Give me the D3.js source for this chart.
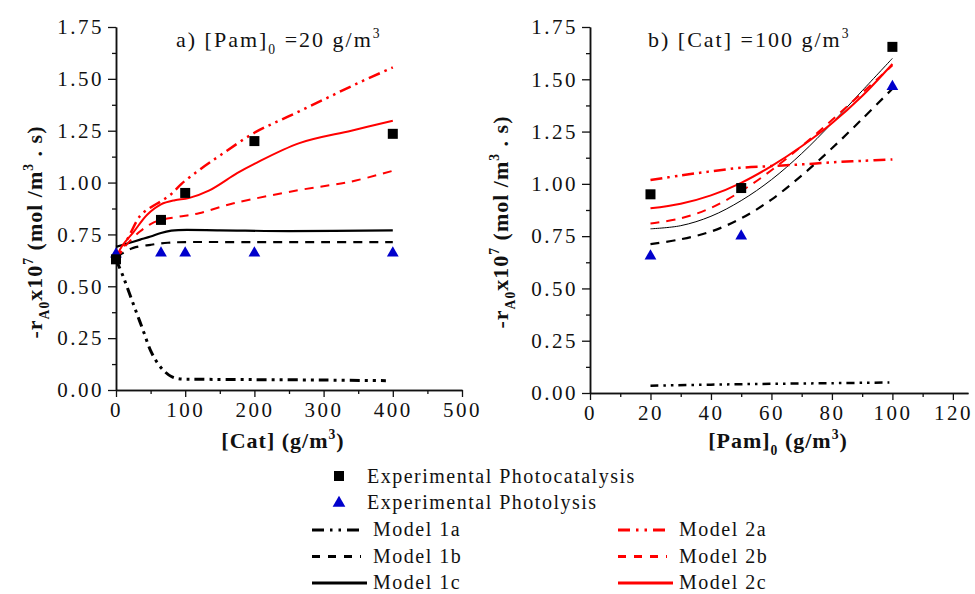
<!DOCTYPE html>
<html>
<head>
<meta charset="utf-8">
<script src="https://cdn.jsdelivr.net/npm/d3@7"></script>
<style>
  body { margin: 0; background: #fff; }
  svg { display: block; }
</style>
</head>
<body>
<svg id="chart" width="975" height="594"></svg>
<script>
// ---- Panel a: initial rate vs catalyst loading, [Pam]0 = 20 g/m3 ----
const catExpX = [0, 65, 100, 200, 400];
const catPhotocat = [0.63, 0.82, 0.95, 1.20, 1.235];
const catPhotolysis = [0.655, 0.66, 0.66, 0.66, 0.66];

const catM1aX = [0, 10, 20, 30, 40, 50, 60, 70, 80, 90, 120, 200, 300, 390];
const catM1aY = [0.63, 0.55, 0.46, 0.37, 0.28, 0.19, 0.13, 0.09, 0.065, 0.055, 0.052, 0.05, 0.048, 0.045];
const catM1bX = [0, 10, 25, 50, 75, 100, 200, 300, 400];
const catM1bY = [0.64, 0.66, 0.685, 0.70, 0.71, 0.713, 0.713, 0.713, 0.713];
const catM1cX = [0, 15, 35, 50, 65, 80, 90, 150, 250, 400];
const catM1cY = [0.69, 0.705, 0.725, 0.74, 0.757, 0.768, 0.771, 0.77, 0.766, 0.77];
const catM2aX = [0, 20, 35, 50, 65, 80, 95, 120, 150, 200, 250, 300, 350, 400];
const catM2aY = [0.62, 0.75, 0.84, 0.88, 0.91, 0.945, 0.995, 1.06, 1.13, 1.24, 1.32, 1.40, 1.48, 1.555];
const catM2bX = [0, 15, 35, 50, 65, 90, 120, 170, 265, 340, 400];
const catM2bY = [0.63, 0.70, 0.765, 0.80, 0.82, 0.835, 0.852, 0.90, 0.964, 1.005, 1.057];
const catM2cX = [0, 10, 25, 45, 65, 85, 105, 135, 175, 200, 265, 340, 400];
const catM2cY = [0.64, 0.70, 0.76, 0.845, 0.895, 0.915, 0.925, 0.962, 1.045, 1.09, 1.19, 1.25, 1.298];

// ---- Panel b: initial rate vs initial paraquat, [Cat] = 100 g/m3 ----
const pamExpX = [20, 50, 100];
const pamPhotocat = [0.95, 0.98, 1.655];
const pamPhotolysis = [0.655, 0.75, 1.465];

const pamModelX = [20, 30, 40, 50, 60, 70, 80, 90, 100];
const pamM1aX = [20, 40, 60, 80, 99];
const pamM1aY = [0.035, 0.040, 0.044, 0.047, 0.050];
const pamM1bY = [0.712, 0.735, 0.772, 0.835, 0.925, 1.04, 1.17, 1.31, 1.455];
const pamM1cY = [0.785, 0.80, 0.845, 0.92, 1.02, 1.145, 1.29, 1.445, 1.60];
const pamM2aY = [1.018, 1.04, 1.06, 1.077, 1.085, 1.093, 1.103, 1.11, 1.117];
const pamM2bY = [0.811, 0.835, 0.885, 0.965, 1.065, 1.18, 1.305, 1.435, 1.567];
const pamM2cY = [0.883, 0.905, 0.945, 1.005, 1.085, 1.18, 1.29, 1.42, 1.573];

// ---- Axis ticks ----
const catTicks = [0, 100, 200, 300, 400, 500];
const pamTicks = [0, 20, 40, 60, 80, 100, 120];
const rateTicks = [0, 0.25, 0.5, 0.75, 1.0, 1.25, 1.5, 1.75];

const RED = "#ff0000", BLACK = "#000000", BLUE = "#0000cc";
const DASH_DOT_DOT = "12,5,2.5,5,2.5,5";
const DASHED = "9,7";
const SERIF = '"Liberation Serif", serif';

const zip = (xs, ys) => xs.map((x, i) => [x, ys[i]]);

const svg = d3.select("#chart").style("font-family", SERIF);

const panels = [
  {
    x: d3.scaleLinear().domain([0, 500]).range([116, 462]),
    y: d3.scaleLinear().domain([0, 1.75]).range([390, 27]),
    xTicks: catTicks, xMinor: d3.range(50, 500, 100),
    models: [
      { pts: zip(catM1aX, catM1aY), color: BLACK, dash: "10,5,3,5,3,5", width: 3 },
      { pts: zip(catM1bX, catM1bY), color: BLACK, dash: DASHED, width: 2.2 },
      { pts: zip(catM1cX, catM1cY), color: BLACK, dash: null, width: 2.2 },
      { pts: zip(catM2aX, catM2aY), color: RED, dash: DASH_DOT_DOT, width: 2.5 },
      { pts: zip(catM2bX, catM2bY), color: RED, dash: DASHED, width: 2 },
      { pts: zip(catM2cX, catM2cY), color: RED, dash: null, width: 2 }
    ],
    squares: zip(catExpX, catPhotocat),
    triangles: zip(catExpX, catPhotolysis),
    title: { x: 176, parts: [["a) [Pam]", 0], ["0", 1], [" =20 g/m", 0], ["3", -1]] },
    xlabel: { x: 283, parts: [["[Cat] (g/m", 0], ["3", -1], [")", 0]] },
    ylabelX: 42, ylabelY: 232
  },
  {
    x: d3.scaleLinear().domain([0, 125]).range([590, 968]),
    y: d3.scaleLinear().domain([0, 1.75]).range([393, 27]),
    xTicks: pamTicks, xMinor: d3.range(10, 125, 20),
    models: [
      { pts: zip(pamM1aX, pamM1aY), color: BLACK, dash: "8,5,2.5,5,2.5,5", width: 2.5 },
      { pts: zip(pamModelX, pamM1bY), color: BLACK, dash: DASHED, width: 2.2 },
      { pts: zip(pamModelX, pamM1cY), color: BLACK, dash: null, width: 1 },
      { pts: zip(pamModelX, pamM2aY), color: RED, dash: DASH_DOT_DOT, width: 2.5 },
      { pts: zip(pamModelX, pamM2bY), color: RED, dash: DASHED, width: 2 },
      { pts: zip(pamModelX, pamM2cY), color: RED, dash: null, width: 2 }
    ],
    squares: zip(pamExpX, pamPhotocat),
    triangles: zip(pamExpX, pamPhotolysis),
    title: { x: 648, parts: [["b) [Cat] =100 g/m", 0], ["3", -1]] },
    xlabel: { x: 778, parts: [["[Pam]", 0], ["0", 1], [" (g/m", 0], ["3", -1], [")", 0]] },
    ylabelX: 508, ylabelY: 222
  }
];

// Writes text made of normal / subscript (1) / superscript (-1) runs.
function richText(sel, parts, size) {
  let shift = 0;
  parts.forEach(([s, kind]) => {
    const target = kind === 1 ? size * 0.32 : kind === -1 ? -size * 0.42 : 0;
    sel.append("tspan")
      .attr("dy", target - shift)
      .attr("font-size", kind === 0 ? size : size * 0.62)
      .style("font-family", SERIF)
      .text(s);
    shift = target;
  });
}

function styleAxis(g) {
  g.attr("font-family", null).style("font-family", SERIF);
  g.select(".domain").attr("stroke", "#111").attr("stroke-width", 1.5);
  g.selectAll(".tick line").attr("stroke", "#111").attr("stroke-width", 1.3);
  g.selectAll(".tick text")
    .style("font-family", SERIF)
    .attr("font-size", 21)
    .attr("letter-spacing", "2.5px")
    .attr("fill", "#111");
}

panels.forEach(p => {
  const x0 = p.x.range()[0], y0 = p.y.range()[0];

  // minor ticks
  svg.append("g").attr("transform", `translate(0,${y0})`)
    .call(d3.axisBottom(p.x).tickValues(p.xMinor).tickSize(4).tickSizeOuter(0).tickFormat(""))
    .call(styleAxis);
  svg.append("g").attr("transform", `translate(${x0},0)`)
    .call(d3.axisLeft(p.y).tickValues(d3.range(0.125, 1.75, 0.25)).tickSize(4).tickSizeOuter(0).tickFormat(""))
    .call(styleAxis);

  // major ticks
  svg.append("g").attr("transform", `translate(0,${y0})`)
    .call(d3.axisBottom(p.x).tickValues(p.xTicks).tickSize(7).tickPadding(5).tickSizeOuter(0).tickFormat(d3.format("d")))
    .call(styleAxis);
  svg.append("g").attr("transform", `translate(${x0},0)`)
    .call(d3.axisLeft(p.y).tickValues(rateTicks).tickSize(8).tickPadding(4).tickSizeOuter(0).tickFormat(d3.format(".2f")))
    .call(styleAxis);

  // model curves
  const line = d3.line().x(d => p.x(d[0])).y(d => p.y(d[1])).curve(d3.curveCatmullRom.alpha(0.5));
  p.models.forEach(m => {
    svg.append("path")
      .attr("d", line(m.pts))
      .attr("fill", "none")
      .attr("stroke", m.color)
      .attr("stroke-width", m.width)
      .attr("stroke-dasharray", m.dash)
      .attr("stroke-linejoin", "round");
  });

  // experimental points
  svg.append("g").selectAll("path").data(p.triangles).join("path")
    .attr("transform", d => `translate(${p.x(d[0])},${p.y(d[1])})`)
    .attr("d", d3.symbol(d3.symbolTriangle, 60)())
    .attr("fill", BLUE);
  svg.append("g").selectAll("rect").data(p.squares).join("rect")
    .attr("x", d => p.x(d[0]) - 5).attr("y", d => p.y(d[1]) - 5)
    .attr("width", 10).attr("height", 10)
    .attr("fill", BLACK);

  // panel title
  const t = svg.append("text").attr("x", p.title.x).attr("y", 47)
    .style("font-family", SERIF)
    .attr("letter-spacing", "2px").attr("fill", "#111");
  richText(t, p.title.parts, 22);

  // x label
  const xl = svg.append("text").attr("x", p.xlabel.x).attr("y", 448)
    .attr("text-anchor", "middle").style("font-family", SERIF)
    .attr("font-weight", "bold").attr("letter-spacing", "1px").attr("fill", "#111");
  richText(xl, p.xlabel.parts, 22);

  // y label
  const yl = svg.append("text")
    .attr("transform", `translate(${p.ylabelX},${p.ylabelY}) rotate(-90)`)
    .attr("text-anchor", "middle").style("font-family", SERIF)
    .attr("font-weight", "bold").attr("letter-spacing", "1px").attr("fill", "#111");
  richText(yl, [["-r", 0], ["A0", 1], ["x10", 0], ["7", -1], [" (mol /m", 0], ["3", -1], [" . s)", 0]], 22);
});

// ---- Legend ----
const legend = svg.append("g")
  .style("font-family", SERIF).attr("font-size", 20)
  .attr("letter-spacing", "1.5px").attr("fill", "#111");

legend.append("rect").attr("x", 334).attr("y", 471).attr("width", 10).attr("height", 10).attr("fill", BLACK);
legend.append("text").attr("x", 367).attr("y", 483).style("font-family", SERIF).text("Experimental Photocatalysis");
legend.append("path").attr("transform", "translate(339,503)")
  .attr("d", d3.symbol(d3.symbolTriangle, 70)()).attr("fill", BLUE);
legend.append("text").attr("x", 367).attr("y", 509).style("font-family", SERIF).text("Experimental Photolysis");

const legendModels = [
  { label: "Model 1a", color: BLACK, dash: "12,6,2.5,6,2.5,6", col: 0, row: 0 },
  { label: "Model 1b", color: BLACK, dash: "8,8", col: 0, row: 1 },
  { label: "Model 1c", color: BLACK, dash: null, col: 0, row: 2 },
  { label: "Model 2a", color: RED, dash: "12,6,2.5,6,2.5,6", col: 1, row: 0 },
  { label: "Model 2b", color: RED, dash: "8,8", col: 1, row: 1 },
  { label: "Model 2c", color: RED, dash: null, col: 1, row: 2 }
];
const colX = [312, 618];
legendModels.forEach(m => {
  const lx = colX[m.col], ly = 530 + m.row * 26.5;
  legend.append("line")
    .attr("x1", lx).attr("x2", lx + (m.dash ? 49 : 55))
    .attr("y1", ly).attr("y2", ly)
    .attr("stroke", m.color).attr("stroke-width", 3)
    .attr("stroke-dasharray", m.dash);
  legend.append("text").attr("x", lx + 61).attr("y", ly + 6).style("font-family", SERIF).text(m.label);
});
</script>
</body>
</html>
